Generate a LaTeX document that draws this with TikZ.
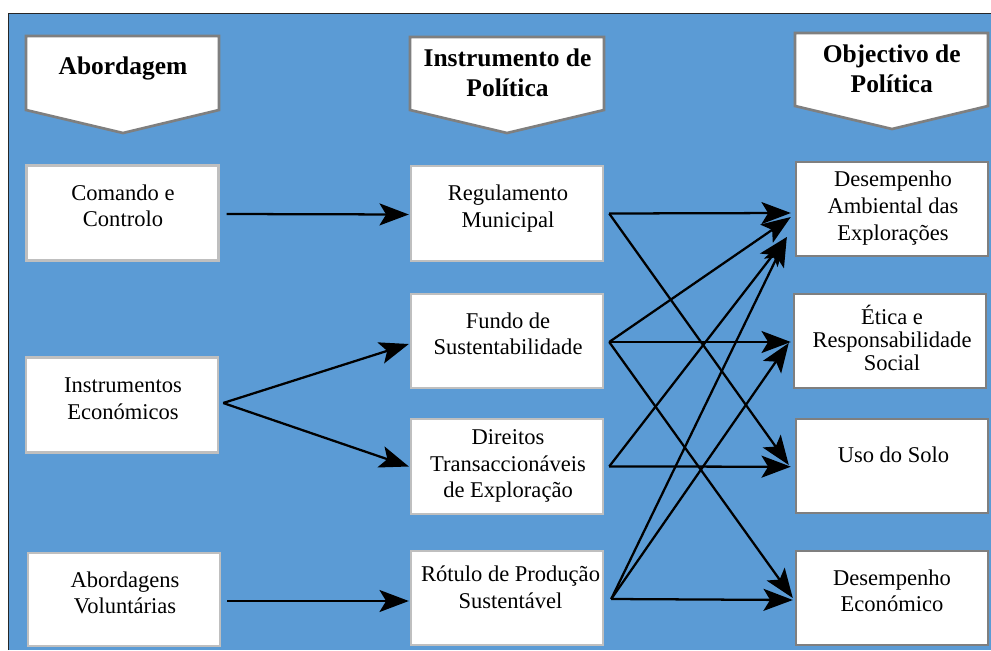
\documentclass[tikz,border=0pt]{standalone}
\usepackage{fontspec}
\setmainfont{Liberation Serif}
\usetikzlibrary{arrows.meta}
\definecolor{bgblue}{RGB}{91,155,213}
\definecolor{lightborder}{RGB}{191,191,191}
\definecolor{darkborder}{RGB}{127,127,127}
\tikzset{
  boxL/.style={draw=lightborder, line width=1.8pt, fill=white, minimum width=144pt, minimum height=71pt, inner sep=0pt},
  boxR/.style={boxL, draw=darkborder},
  txt/.style={font=\fontsize{16.9pt}{19.9pt}\selectfont, align=center, inner sep=0pt},
  htxt/.style={font=\fontsize{19.1pt}{22.5pt}\selectfont\bfseries, align=center, inner sep=0pt},
  hdr/.style={draw=darkborder, line width=2pt, fill=white, line join=miter},
  conn/.style={line width=1.7pt, -{Stealth[length=22pt, width=16.5pt, inset=5pt]}},
  frame/.style={draw=black!85, line width=0.9pt},
}
\begin{document}
\begin{tikzpicture}[x=0.75pt,y=-0.75pt]
\useasboundingbox (0,0) rectangle (991,650);
% background
\fill[bgblue] (8.5,13.5) rectangle (991,650);
\draw[frame] (8.5,650) -- (8.5,13.5) -- (991,13.5);

% headers
\draw[hdr] (26,36) -- (219,36) -- (219,110) -- (123,133) -- (26,110) -- cycle;
\draw[hdr] (410,37) -- (604,37) -- (604,110) -- (507,133) -- (410,110) -- cycle;
\draw[hdr] (795,33) -- (988,33) -- (988,106) -- (892,129) -- (795,106) -- cycle;
\node[htxt] (h1) at (123,68) {Abordagem};
\node[htxt] (h2) at (507.5,73) {Instrumento de\\Política};
\node[htxt] (h3) at (891.7,68.4) {Objectivo de\\Política};

% left column
\node[boxL] (cc) at (122.5,213) {};
\node[boxL] (ie) at (122,405) {};
\node[boxL, minimum height=69.75pt] (av) at (124,599.5) {};
% middle column
\node[boxL] (rm) at (507,213.5) {};
\node[boxL, minimum height=70.5pt] (fs) at (507,341) {};
\node[boxL] (dt) at (507,466.5) {};
\node[boxL, minimum height=70.5pt] (rp) at (507,598) {};
% right column
\node[boxR, minimum height=70.5pt] (da) at (892,209) {};
\node[boxR, minimum height=70.5pt] (er) at (890,341) {};
\node[boxR, minimum height=70.5pt] (us) at (892,466) {};
\node[boxR, minimum height=70.5pt] (de) at (892,598) {};

% texts
\node[txt] (tcc) at (123,205.8) {Comando e\\Controlo};
\node[txt] (tie) at (123,398.5) {Instrumentos\\Económicos};
\node[txt] (tav) at (125,592.7) {Abordagens\\Voluntárias};
\node[txt] (trm) at (508,208.7) {Regulamento\\Municipal};
\node[txt] (tfs) at (508,334) {Fundo de\\Sustentabilidade};
\node[txt] (tdt) at (508,466.1) {Direitos\\Transaccionáveis\\de Exploração};
\node[txt] (trp) at (510.5,587) {Rótulo de Produção\\Sustentável};
\node[txt] (tda) at (893,208.1) {Desempenho\\Ambiental das\\Explorações};
\node[txt, font=\fontsize{16.9pt}{17.1pt}\selectfont] (ter) at (892,338) {Ética e\\Responsabilidade\\Social};
\node[txt] (tus) at (893.5,454.6) {Uso do Solo};
\node[txt] (tde) at (892,590.6) {Desempenho\\Económico};

% left to middle
\draw[conn] ([shift={(7,1)}]cc.east) -- ([shift={(-1,1)}]rm.west);
\draw[conn] ([shift={(4,-2)}]ie.east) -- ([shift={(-1,3)}]fs.west);
\draw[conn] ([shift={(4,-2)}]ie.east) -- ([shift={(-1,0)}]dt.west);
\draw[conn] ([shift={(6,1.5)}]av.east) -- ([shift={(-1,3)}]rp.west);

% middle to right
\draw[conn] ([shift={(5,0)}]rm.east) -- ([shift={(-4,4)}]da.west);
\draw[conn] ([shift={(5,0)}]rm.east) -- ([shift={(-6,-1)}]us.west);
\draw[conn] ([shift={(5,1)}]fs.east) -- ([shift={(-4,8)}]da.west);
\draw[conn] ([shift={(5,1)}]fs.east) -- ([shift={(-2,1)}]er.west);
\draw[conn] ([shift={(5,1)}]fs.east) -- ([shift={(-2,0)}]de.west);
\draw[conn] ([shift={(5,0)}]dt.east) -- ([shift={(-8,28)}]da.west);
\draw[conn] ([shift={(5,0)}]dt.east) -- ([shift={(-4,0.7)}]us.west);
\draw[conn] ([shift={(7,1)}]rp.east) -- ([shift={(-8,28)}]da.west);
\draw[conn] ([shift={(7,1)}]rp.east) -- ([shift={(-4,2)}]er.west);
\draw[conn] ([shift={(7,1)}]rp.east) -- ([shift={(-2,2)}]de.west);
\end{tikzpicture}
\end{document}
